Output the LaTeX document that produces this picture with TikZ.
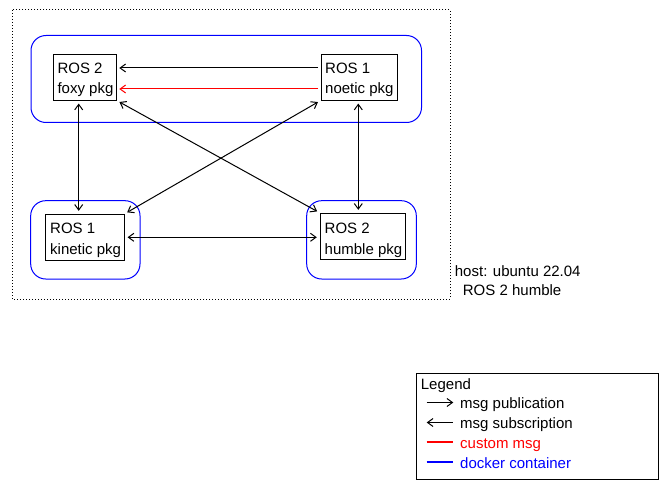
\documentclass[tikz,border=0pt]{standalone}
\usepackage{fontspec}
\setmainfont{Liberation Sans}
\usetikzlibrary{arrows.meta,calc}
\definecolor{dblue}{RGB}{0,0,255}
\definecolor{dred}{RGB}{255,0,0}
\begin{document}
\begin{tikzpicture}[x=1pt,y=-1pt,
  every node/.style={font=\fontsize{15}{18}\selectfont, inner sep=0pt},
  txt/.style={anchor=base west},
  pkgbox/.style={draw=black, line width=1pt, rectangle, minimum height=45.7pt},
  container/.style={color=dblue, line width=1pt, rounded corners=15pt},
  arr/.style={line width=1pt, >={Straight Barb[length=5.5pt,width=8pt]}},
  link/.style={arr, <->, shorten >=3pt, shorten <=3pt}]
\useasboundingbox (0,0) rectangle (661,484);
% host
\draw[line width=1pt, dash pattern=on 1pt off 2pt] (12,10) rectangle (450,299);
\node[txt] (host1) at (454.7,276.7) {host: ubuntu 22.04};
\node[txt] (host2) at (462.7,295.7) {ROS 2 humble};
% containers
\draw[container] (31,35.5) rectangle (421.5,122.5);
\draw[container] (30.7,200.7) rectangle (140,279);
\draw[container] (306.7,200.7) rectangle (416.3,279);
% packages
\node[pkgbox, minimum width=63pt] (foxy) at (84.8,77.2) {};
\node[txt] (foxyA) at (57.3,73.5) {ROS 2};
\node[txt] (foxyB) at (57.3,94) {foxy pkg};
\node[pkgbox, minimum width=76.3pt] (noetic) at (359.2,77.2) {};
\node[txt] (noeticA) at (325,73.5) {ROS 1};
\node[txt] (noeticB) at (325,94) {noetic pkg};
\node[pkgbox, minimum width=78.3pt] (kinetic) at (84.9,237.2) {};
\node[txt] (kineticA) at (50,233.3) {ROS 1};
\node[txt] (kineticB) at (50,254) {kinetic pkg};
\node[pkgbox, minimum width=85pt] (humble) at (362.8,236.2) {};
\node[txt] (humbleA) at (324.5,233) {ROS 2};
\node[txt] (humbleB) at (324.5,254) {humble pkg};
% connectors
\draw[arr, ->, shorten >=2.5pt, shorten <=2.5pt] (noetic.west |- 0,68) -- (foxy.east |- 0,68);
\draw[arr, ->, color=dred, shorten >=2.5pt, shorten <=2.5pt] (noetic.west |- 0,89) -- (foxy.east |- 0,89);
\draw[link] (78.7,0 |- foxy.south) -- (78.7,0 |- kinetic.north);
\draw[link] (358.3,0 |- noetic.south) -- (358.3,0 |- humble.north);
\draw[link] (foxy.south east) -- (humble.north west);
\draw[link] (noetic.south west) -- (kinetic.north east);
\draw[link] (kinetic.east |- 0,237.3) -- (humble.west |- 0,237.3);
% legend
\draw[line width=1pt] (416.7,373.3) rectangle (658.3,479.3);
\node[txt] (legend) at (420.7,389.3) {Legend};
\coordinate (l1a) at (426.7,402.5); \coordinate (l1b) at (453.3,402.5);
\coordinate (l2a) at (426.7,422.5); \coordinate (l2b) at (453.3,422.5);
\coordinate (l3a) at (426.7,442); \coordinate (l3b) at (453.3,442);
\coordinate (l4a) at (426.7,462); \coordinate (l4b) at (453.3,462);
\draw[arr, ->] (l1a) -- (l1b);
\draw[arr, <-] (l2a) -- (l2b);
\draw[line width=1.1pt, red] (l3a) -- (l3b);
\draw[line width=1.1pt, blue] (l4a) -- (l4b);
\node[txt] (lt1) at (460,408.3) {msg publication};
\node[txt] (lt2) at (460,428.3) {msg subscription};
\node[txt, text=dred] (lt3) at (460,448.3) {custom msg};
\node[txt, text=dblue] (lt4) at (460,468.3) {docker container};
\end{tikzpicture}
\end{document}
